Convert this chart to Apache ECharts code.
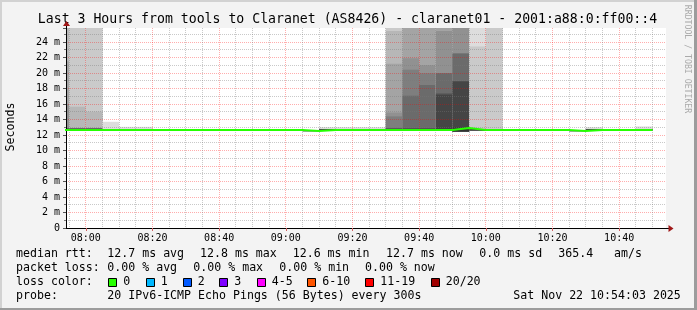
<!DOCTYPE html>
<html><head><meta charset="utf-8">
<script src="https://cdn.jsdelivr.net/npm/echarts@6/dist/echarts.min.js"></script>
<style>html,body{margin:0;padding:0;background:#f3f3f3}#c{width:697px;height:310px}</style>
</head><body><div id="c"></div>
<script>
// ---------------- data ----------------
const titleText = 'Last 3 Hours from tools to Claranet (AS8426) - claranet01 - 2001:a88:0:ff00::4';
const yAxisTitle = 'Seconds';
const watermark = 'RRDTOOL / TOBI OETIKER';
const chartStart = '07:54:03';
const chartEnd = '10:54:03';
const xTickLabels = ['08:00','08:20','08:40','09:00','09:20','09:40','10:00','10:20','10:40'];
// 5-minute buckets (end time of each bucket)
const bucketEnds = ['07:55','08:00','08:05','08:10','08:15','08:20','08:25','08:30','08:35','08:40','08:45','08:50',
  '08:55','09:00','09:05','09:10','09:15','09:20','09:25','09:30','09:35','09:40','09:45','09:50',
  '09:55','10:00','10:05','10:10','10:15','10:20','10:25','10:30','10:35','10:40','10:45','10:50'];
// median rtt (ms)
const medianRtt = [12.65,12.65,12.65,12.65,12.65,12.65,12.65,12.65,12.65,12.65,12.65,12.65,
  12.65,12.65,12.65,12.52,12.65,12.65,12.65,12.65,12.65,12.65,12.65,12.65,
  12.9,12.65,12.65,12.65,12.65,12.65,12.65,12.52,12.65,12.65,12.65,12.65];
// lower half of the 20 sorted pings (all equal to this value)
const lowPing = [12.6,12.6,12.6,12.6,12.6,12.6,12.6,12.6,12.6,12.6,12.6,12.6,
  12.6,12.6,12.6,12.5,12.6,12.6,12.6,12.6,12.6,12.6,12.6,12.6,
  12.45,12.6,12.6,12.6,12.6,12.6,12.6,12.5,12.6,12.6,12.6,12.6];
// upper half of the 20 sorted pings (ping 11 .. ping 20), ms
const highPings = [
  [12.8,12.8,12.8,12.8,12.8,16.0,21.5,40,40,40],
  [12.8,12.8,12.8,12.8,12.8,12.8,12.8,15.65,40,40],
  [12.8,12.8,12.8,12.8,12.8,12.8,12.8,15.0,40,40],
  [12.7,12.7,12.7,12.7,12.7,12.7,12.7,12.7,12.7,13.7],
  [12.7,12.7,12.7,12.7,12.7,12.7,12.7,12.7,12.7,13.05],
  [12.7,12.7,12.7,12.7,12.7,12.7,12.7,12.7,12.7,13.05],
  [12.7,12.7,12.7,12.7,12.7,12.7,12.7,12.7,12.7,12.7],
  [12.7,12.7,12.7,12.7,12.7,12.7,12.7,12.7,12.7,12.7],
  [12.7,12.7,12.7,12.7,12.7,12.7,12.7,12.7,12.7,12.7],
  [12.7,12.7,12.7,12.7,12.7,12.7,12.7,12.7,12.7,12.7],
  [12.7,12.7,12.7,12.7,12.7,12.7,12.7,12.7,12.7,12.7],
  [12.7,12.7,12.7,12.7,12.7,12.7,12.7,12.7,12.7,12.7],
  [12.7,12.7,12.7,12.7,12.7,12.7,12.7,12.7,12.7,12.7],
  [12.7,12.7,12.7,12.7,12.7,12.7,12.7,12.7,12.7,12.7],
  [12.7,12.7,12.7,12.7,12.7,12.7,12.7,12.7,12.7,12.7],
  [12.6,12.6,12.6,12.6,12.6,12.6,12.6,12.6,12.6,12.6],
  [12.7,12.7,12.7,12.7,12.7,12.7,12.7,12.7,12.7,13.0],
  [12.7,12.7,12.7,12.7,12.7,12.7,12.7,12.7,12.7,13.0],
  [12.7,12.7,12.7,12.7,12.7,12.7,12.7,12.7,12.7,13.0],
  [12.7,12.7,12.7,12.7,12.7,12.7,12.7,12.7,12.7,13.0],
  [12.8,12.8,12.8,12.8,14.4,14.9,21.2,25.4,40,40],
  [12.8,12.8,12.8,17.07,20.4,21.9,40,40,40,40],
  [12.8,12.8,12.8,18.45,19.95,21.0,40,40,40,40],
  [12.8,17.2,17.37,19.95,19.95,25.4,40,40,40,40],
  [12.95,18.9,18.95,22.5,22.5,40,40,40,40,40],
  [12.7,12.7,12.7,12.7,12.7,12.7,12.7,12.7,23.4,40],
  [12.7,12.7,12.7,12.7,12.7,12.7,12.7,12.7,40,40],
  [12.7,12.7,12.7,12.7,12.7,12.7,12.7,12.7,12.7,12.7],
  [12.7,12.7,12.7,12.7,12.7,12.7,12.7,12.7,12.7,12.7],
  [12.7,12.7,12.7,12.7,12.7,12.7,12.7,12.7,12.7,12.7],
  [12.7,12.7,12.7,12.7,12.7,12.7,12.7,12.7,12.7,12.7],
  [12.6,12.6,12.6,12.6,12.6,12.6,12.6,12.6,12.6,12.6],
  [12.7,12.7,12.7,12.7,12.7,12.7,12.7,12.7,12.7,13.0],
  [12.7,12.7,12.7,12.7,12.7,12.7,12.7,12.7,12.7,12.7],
  [12.7,12.7,12.7,12.7,12.7,12.7,12.7,12.7,12.7,12.7],
  [12.7,12.7,12.7,12.7,12.7,12.7,12.7,12.7,12.7,13.1]
];
const statsRttLabel = 'median rtt:';
const statsRtt = ['12.7 ms avg','12.8 ms max','12.6 ms min','12.7 ms now','0.0 ms sd','365.4','am/s'];
const statsLossLabel = 'packet loss:';
const statsLoss = ['0.00 % avg','0.00 % max','0.00 % min','0.00 % now'];
const lossColorLabel = 'loss color:';
const lossLabels = ['0','1','2','3','4-5','6-10','11-19','20/20'];
const probeLabel = 'probe:';
const probeText = '20 IPv6-ICMP Echo Pings (56 Bytes) every 300s';
const dateText = 'Sat Nov 22 10:54:03 2025';

// ---------------- styles / layout ----------------
const lossColors = ['#26ff00','#00b8ff','#0059ff','#7e00ff','#ff00ff','#ff5500','#ff0000','#a00000'];
const MONO = '"DejaVu Sans Mono", monospace';
const MAJOR_GRID = 'rgba(255,0,0,0.32)';
const MINOR_GRID = 'rgba(120,120,120,0.4)';
const BUCKET = 5;
const toMin = s => { const p = s.split(':').map(Number); return p[0]*60 + p[1] + (p[2] || 0)/60; };
const xMin = toMin(chartStart), xMax = toMin(chartEnd);
const majorVals = xTickLabels.map(toMin);

// smoke rectangles: band k spans ping[k] .. ping[19-k]
const smoke = [];
bucketEnds.forEach((t, i) => {
  const e = toMin(t), s = e - BUCKET;
  for (let k = 0; k < 10; k++) {
    const top = highPings[i][9 - k];
    const bot = lowPing[i];
    if (top - bot > 0.06) smoke.push([s, e, bot, top, k]);
  }
});
// median step line
const medLine = [];
bucketEnds.forEach((t, i) => {
  const e = toMin(t);
  medLine.push([e - BUCKET, medianRtt[i]]);
  medLine.push([e, medianRtt[i]]);
});
// vertical grid positions (every 5 minutes)
const gridX = [];
for (let m = 475; m <= 650; m += 5) {
  gridX.push([m, majorVals.some(v => Math.abs(v - m) < 0.01) ? 1 : 0]);
}

const chart = echarts.init(document.getElementById('c'), null, { renderer: 'canvas' });
const G = { left: 66, top: 28, width: 600, height: 200 };

const els = [];
function txt(x, y, text, size, extra) {
  els.push(Object.assign({ type: 'text', x: x, y: y, silent: true, z: 10,
    style: { text: text, font: size + 'px ' + MONO, fill: '#000', align: 'left', verticalAlign: 'middle' } }, extra || {}));
}
const F = 11.6;
txt(16, 254.3, statsRttLabel, F);
[107.3, 200, 292.7, 386, 479.3, 558.3, 614].forEach((x, i) => txt(x, 254.3, statsRtt[i], F));
txt(16, 268.3, statsLossLabel, F);
[107.3, 193.3, 279.3, 365].forEach((x, i) => txt(x, 268.3, statsLoss[i], F));
txt(16, 282.3, lossColorLabel, F);
[108.3, 145.7, 182.7, 219.3, 256.7, 307.3, 365.3, 430.7].forEach((x, i) => {
  els.push({ type: 'rect', silent: true, z: 10, shape: { x: Math.round(x) + 0.5, y: 278.5, width: 8, height: 8 },
    style: { fill: lossColors[i], stroke: '#000', lineWidth: 1 } });
  txt(x + 15, 282.3, lossLabels[i], F);
});
txt(16, 296, probeLabel, F);
txt(107.3, 296, probeText, F);
txt(513.3, 296, dateText, F);
els.push({ type: 'text', x: 347.5, y: 19.3, silent: true, z: 10,
  style: { text: titleText, font: '13.2px ' + MONO, fill: '#000', align: 'center', verticalAlign: 'middle' } });
els.push({ type: 'text', x: 10.8, y: 127, rotation: Math.PI / 2, silent: true, z: 10,
  style: { text: yAxisTitle, font: F + 'px ' + MONO, fill: '#000', align: 'center', verticalAlign: 'middle' } });
els.push({ type: 'text', x: 687, y: 59, rotation: -Math.PI / 2, silent: true, z: 10,
  style: { text: watermark, font: '8.2px ' + MONO, fill: '#aaaaaa', align: 'center', verticalAlign: 'middle' } });
// frame
els.push({ type: 'rect', silent: true, z: 9, shape: { x: 0, y: 0, width: 697, height: 2 }, style: { fill: '#d2d2d2' } });
els.push({ type: 'rect', silent: true, z: 9, shape: { x: 0, y: 0, width: 2, height: 310 }, style: { fill: '#d2d2d2' } });
els.push({ type: 'rect', silent: true, z: 9, shape: { x: 694, y: 0, width: 3, height: 310 }, style: { fill: '#9c9c9c' } });
els.push({ type: 'rect', silent: true, z: 9, shape: { x: 0, y: 308, width: 697, height: 2 }, style: { fill: '#9c9c9c' } });
// axis extensions and arrows
els.push({ type: 'line', silent: true, z: 10, shape: { x1: 666, y1: 228.5, x2: 669, y2: 228.5 }, style: { stroke: '#000', lineWidth: 1 } });
els.push({ type: 'polygon', silent: true, z: 10, shape: { points: [[668.5, 225], [673.5, 228.5], [668.5, 232]] }, style: { fill: '#a01818' } });
els.push({ type: 'line', silent: true, z: 10, shape: { x1: 66.5, y1: 28, x2: 66.5, y2: 25 }, style: { stroke: '#000', lineWidth: 1 } });
els.push({ type: 'polygon', silent: true, z: 10, shape: { points: [[63, 26], [66.5, 21], [70, 26]] }, style: { fill: '#a01818' } });

chart.setOption({
  animation: false,
  backgroundColor: '#f3f3f3',
  grid: Object.assign({ show: true, backgroundColor: '#ffffff', borderWidth: 0 }, G),
  xAxis: {
    type: 'value', min: xMin, max: xMax, z: 1.5,
    axisLine: { show: true, onZero: false, lineStyle: { color: '#000', width: 1 } },
    axisTick: { show: true, customValues: majorVals, length: 3, lineStyle: { color: '#d06060' } },
    axisLabel: { customValues: majorVals, margin: 5, fontFamily: MONO, fontSize: 10, color: '#000',
      formatter: v => { const i = majorVals.findIndex(m => Math.abs(m - v) < 0.01); return i >= 0 ? xTickLabels[i] : ''; } },
    splitLine: { show: false }
  },
  yAxis: {
    type: 'value', min: 0, max: 25.8, interval: 2, z: 1.5,
    axisLine: { show: true, lineStyle: { color: '#000', width: 1 } },
    axisTick: { show: true, length: 3, lineStyle: { color: '#555' } },
    minorTick: { show: true, splitNumber: 2, length: 2, lineStyle: { color: '#777' } },
    axisLabel: { showMaxLabel: false, margin: 6, fontFamily: MONO, fontSize: 10, color: '#000',
      formatter: v => v === 0 ? '0' : v + ' m' },
    splitLine: { show: true, showMaxLine: false, showMinLine: false, lineStyle: { color: MAJOR_GRID, type: [1, 1] } },
    minorSplitLine: { show: true, lineStyle: { color: MINOR_GRID, type: [1, 1] } }
  },
  series: [
    {
      type: 'custom', z: 1, clip: true, silent: true,
      encode: { x: [0, 1], y: [2, 3] },
      data: smoke,
      renderItem: (params, api) => {
        const a = api.coord([api.value(0), api.value(3)]);
        const b = api.coord([api.value(1), api.value(2)]);
        const g = 221 - 19 * api.value(4);
        return { type: 'rect', shape: { x: a[0], y: a[1], width: b[0] - a[0], height: b[1] - a[1] },
          style: { fill: 'rgb(' + g + ',' + g + ',' + g + ')' } };
      }
    },
    {
      type: 'custom', z: 1.6, silent: true, clip: true,
      encode: { x: 0 },
      data: gridX,
      renderItem: (params, api) => {
        const x = Math.round(api.coord([api.value(0), 0])[0] - 0.5) + 0.5;
        const cs = params.coordSys;
        return { type: 'line', shape: { x1: x, y1: cs.y, x2: x, y2: cs.y + cs.height },
          style: { stroke: api.value(1) ? MAJOR_GRID : MINOR_GRID, lineWidth: 1, lineDash: [1, 1] } };
      }
    },
    {
      type: 'line', z: 3, silent: true, showSymbol: false, data: medLine,
      lineStyle: { color: '#26ff00', width: 2 }, clip: true
    }
  ],
  graphic: els
});
</script></body></html>
